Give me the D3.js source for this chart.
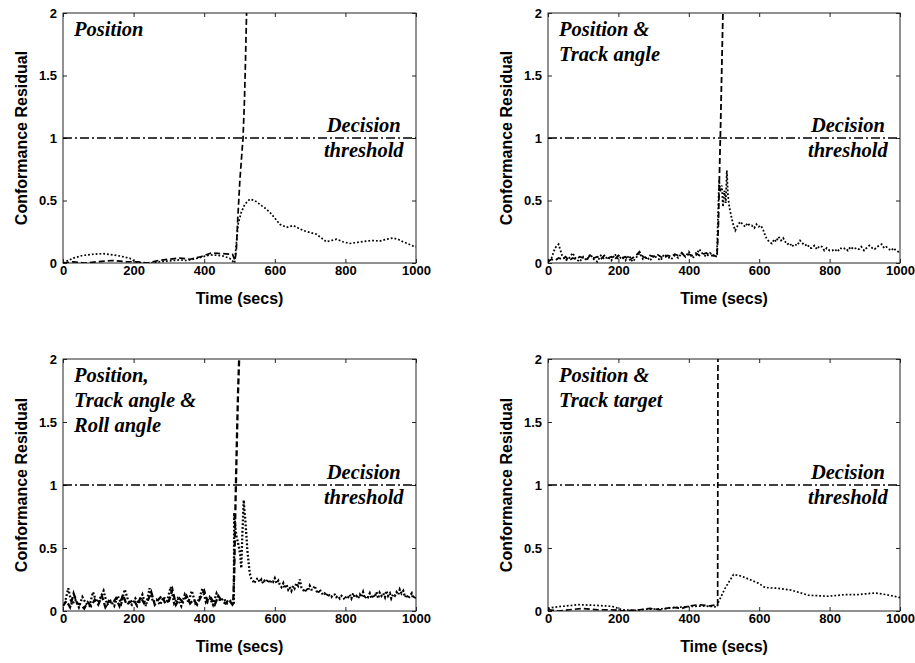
<!DOCTYPE html>
<meta charset="utf-8">
<script src="https://d3js.org/d3.v7.min.js"></script>
<style>
  body { margin: 0; background: #fff; }
  text { fill: #000; }
</style>
<svg id="chart" width="915" height="663"></svg>
<script>
// ---- shared axis values ----
var xTicks = [0, 200, 400, 600, 800, 1000];
var yTicks = [0, 0.5, 1, 1.5, 2];
var threshold = 1;
var xLabel = "Time (secs)";
var yLabel = "Conformance Residual";
var thresholdLabel = ["Decision", "threshold"];

// ---- panel 1 : Position ----
var p1Title = ["Position"];
var p1Dash = [[0,0.0],[30,0.01],[60,0.0],[100,0.01],[140,0.02],[180,0.01],[210,0.01],[240,0.0],[270,0.02],
  [300,0.03],[330,0.04],[360,0.03],[390,0.05],[420,0.08],[450,0.075],[480,0.07],[487,0.02],[491,0.1],
  [495,0.35],[501,0.66],[506,0.85],[510,1.0],[514,1.3],[517,1.62],[520,2.0],[524,2.4]];
var p1Dot = [[0,0.0],[28,0.038],[55,0.06],[85,0.07],[113,0.075],[140,0.065],[161,0.056],[189,0.038],[208,0.003],
  [230,0.0],[255,0.0],[274,0.01],[293,0.015],[312,0.02],[330,0.025],[350,0.02],[368,0.03],[387,0.043],
  [416,0.065],[435,0.062],[453,0.056],[472,0.038],[486,0.0],[496,0.31],[505,0.405],[515,0.47],[529,0.51],
  [543,0.5],[557,0.47],[572,0.44],[586,0.405],[600,0.36],[614,0.31],[633,0.285],[652,0.30],[666,0.28],
  [680,0.26],[699,0.245],[718,0.23],[732,0.2],[746,0.17],[760,0.18],[775,0.19],[793,0.17],[812,0.156],
  [835,0.165],[859,0.175],[878,0.18],[897,0.175],[916,0.19],[935,0.2],[949,0.19],[963,0.17],[977,0.155],
  [991,0.137],[1000,0.13]];

// ---- panel 2 : Position & Track angle ----
var p2Title = ["Position &", "Track angle"];
var p2DashLow = [0.01,0.03,0.02,0.04,0.03,0.05,0.02,0.04,0.03,0.05,
  0.04,0.03,0.06,0.04,0.05,0.03,0.06,0.04,0.05,0.03,
  0.06,0.04,0.05,0.02,0.04,0.06,0.09,0.05,0.04,0.06,
  0.05,0.07,0.05,0.04,0.06,0.05,0.07,0.06,0.08,0.05,
  0.07,0.06,0.08,0.06,0.07,0.08,0.06,0.06,0.05];
var p2DashTail = [[484,0.3],[487,0.7],[490,1.05],[494,1.6],[497,2.0],[501,2.4]];
var p2DotLow = [0.02,0.04,0.12,0.15,0.06,0.02,0.04,0.08,0.03,0.01,
  0.05,0.02,0.07,0.03,0.01,0.06,0.03,0.05,0.02,0.07,
  0.03,0.05,0.02,0.06,0.01,0.04,0.08,0.03,0.05,0.02,
  0.06,0.04,0.02,0.07,0.05,0.03,0.06,0.04,0.08,0.05,
  0.09,0.04,0.06,0.11,0.07,0.05,0.08,0.06,0.07];
var p2DotTail = [[486,0.66],[490,0.57],[494,0.62],[497,0.45],[501,0.58],[505,0.48],[508,0.74],[511,0.55],
  [515,0.45],[522,0.355],[527,0.3],[532,0.26],[539,0.3],[546,0.33],[553,0.31],[560,0.29],[567,0.32],
  [573,0.3],[579,0.30],[586,0.28],[592,0.31],[598,0.29],[605,0.3],[612,0.26],[617,0.22],[621,0.196],
  [628,0.17],[636,0.156],[643,0.19],[648,0.17],[655,0.21],[662,0.18],[668,0.2],[674,0.17],[680,0.15],
  [687,0.16],[693,0.13],[700,0.15],[708,0.14],[716,0.18],[722,0.16],[730,0.14],[737,0.15],[743,0.12],
  [749,0.12],[757,0.14],[764,0.11],[771,0.135],[778,0.13],[785,0.1],[792,0.12],[800,0.1],[807,0.10],
  [815,0.11],[822,0.09],[830,0.12],[838,0.11],[845,0.12],[852,0.1],[860,0.13],[868,0.11],[876,0.12],
  [883,0.11],[890,0.13],[898,0.1],[905,0.12],[913,0.14],[921,0.12],[928,0.11],[935,0.13],[942,0.14],
  [948,0.15],[955,0.12],[961,0.13],[967,0.115],[975,0.1],[982,0.12],[988,0.1],[995,0.09],[1000,0.1]];

// ---- panel 3 : Position, Track angle & Roll angle ----
var p3Title = ["Position,", "Track angle &", "Roll angle"];
var p3DashLow = [0.04,0.08,0.03,0.14,0.06,0.05,0.02,0.07,0.04,0.09,
  0.05,0.12,0.03,0.08,0.06,0.10,0.04,0.13,0.05,0.07,
  0.09,0.04,0.11,0.06,0.08,0.15,0.05,0.09,0.12,0.06,
  0.08,0.17,0.05,0.10,0.07,0.12,0.06,0.09,0.05,0.11,
  0.16,0.07,0.10,0.05,0.12,0.08,0.06,0.09,0.05];
var p3DashTail = [[482,0.06],[485,0.3],[489,0.9],[493,1.4],[496,1.75],[499,2.0],[502,2.3]];
var p3DotLow = [0.06,0.18,0.05,0.09,0.03,0.11,0.06,0.04,0.15,0.07,
  0.10,0.16,0.05,0.08,0.04,0.12,0.06,0.17,0.08,0.05,
  0.10,0.06,0.13,0.04,0.18,0.07,0.09,0.05,0.11,0.08,
  0.19,0.06,0.10,0.04,0.13,0.07,0.16,0.06,0.09,0.18,
  0.07,0.11,0.05,0.14,0.08,0.10,0.06,0.08];
var p3DotTail = [[484,0.05],[485,0.78],[488,0.66],[492,0.59],[495,0.55],[498,0.51],[502,0.45],[505,0.34],
  [508,0.6],[512,0.88],[514,0.8],[517,0.70],[520,0.58],[522,0.49],[526,0.38],[529,0.30],[533,0.26],
  [538,0.24],[542,0.22],[547,0.25],[552,0.26],[557,0.23],[562,0.25],[567,0.22],[571,0.24],[576,0.23],
  [581,0.25],[586,0.22],[590,0.24],[595,0.23],[600,0.26],[605,0.22],[610,0.24],[614,0.21],[619,0.19],
  [624,0.22],[628,0.18],[633,0.21],[638,0.17],[642,0.19],[647,0.16],[652,0.2],[656,0.18],[661,0.22],
  [666,0.2],[671,0.25],[675,0.19],[680,0.17],[685,0.15],[690,0.18],[694,0.16],[699,0.2],[704,0.17],
  [708,0.17],[713,0.2],[718,0.16],[722,0.14],[727,0.17],[732,0.15],[736,0.13],[741,0.14],[746,0.12],
  [751,0.14],[755,0.12],[760,0.11],[765,0.13],[770,0.13],[774,0.11],[779,0.12],[784,0.1],[789,0.12],
  [793,0.11],[798,0.09],[803,0.12],[808,0.11],[812,0.13],[817,0.1],[822,0.14],[826,0.11],[831,0.12],
  [836,0.1],[841,0.13],[845,0.11],[850,0.15],[855,0.1],[860,0.12],[864,0.11],[869,0.14],[874,0.1],
  [879,0.13],[883,0.11],[888,0.15],[893,0.1],[897,0.145],[902,0.12],[907,0.14],[912,0.11],[916,0.16],
  [921,0.12],[926,0.14],[930,0.1],[935,0.13],[940,0.12],[945,0.15],[950,0.13],[954,0.17],[959,0.14],
  [964,0.16],[969,0.11],[973,0.13],[978,0.1],[983,0.12],[988,0.14],[992,0.1],[997,0.12],[1000,0.1]];

// ---- panel 4 : Position & Track target ----
var p4Title = ["Position &", "Track target"];
var p4Dash = [[0,0.01],[30,0.0],[60,0.01],[100,0.02],[140,0.01],[180,0.01],[220,0.0],[260,0.01],[290,0.02],
  [320,0.01],[350,0.03],[380,0.02],[400,0.04],[430,0.05],[460,0.04],[480,0.05],[482,0.05],[483,2.5]];
var p4Dot = [[0,0.02],[11,0.027],[40,0.037],[87,0.05],[134,0.045],[182,0.037],[210,0.01],[248,0.005],
  [276,0.013],[324,0.018],[371,0.03],[400,0.035],[440,0.04],[470,0.035],[480,0.03],[484,0.07],[503,0.18],
  [527,0.29],[545,0.28],[560,0.265],[598,0.22],[617,0.186],[654,0.18],[692,0.165],[740,0.125],[796,0.117],
  [844,0.13],[880,0.13],[929,0.143],[960,0.13],[995,0.11],[1000,0.105]];

function grid(start, step, vals) {
  return vals.map(function(v, i) { return [start + i * step, v]; });
}

var panels = [
  { x0: 63,  x1: 416, y0: 13,  y1: 263, title: p1Title, dash: p1Dash, dot: p1Dot, w: 1.7 },
  { x0: 548, x1: 900, y0: 13,  y1: 263, title: p2Title, w: 1.8,
    dash: grid(0, 10, p2DashLow).concat(p2DashTail), dot: grid(0, 10, p2DotLow).concat(p2DotTail) },
  { x0: 63,  x1: 416, y0: 359, y1: 611, title: p3Title, w: 2.3,
    dash: grid(0, 10, p3DashLow).concat(p3DashTail), dot: grid(5, 10, p3DotLow).concat(p3DotTail) },
  { x0: 548, x1: 900, y0: 359, y1: 611, title: p4Title, dash: p4Dash, dot: p4Dot, w: 1.7 }
];

var svg = d3.select("#chart");
var tickFont = "'Liberation Sans', Arial, sans-serif";
var serif = "'Liberation Serif', 'Times New Roman', serif";

panels.forEach(function(p, i) {
  var x = d3.scaleLinear().domain([0, 1000]).range([p.x0, p.x1]);
  var y = d3.scaleLinear().domain([0, 2]).range([p.y1, p.y0]);
  var g = svg.append("g");

  g.append("clipPath").attr("id", "clip" + i)
    .append("rect")
    .attr("x", p.x0).attr("y", p.y0)
    .attr("width", p.x1 - p.x0).attr("height", p.y1 - p.y0);

  // axes with inward ticks on all four sides
  var bottom = g.append("g").attr("transform", "translate(0," + p.y1 + ")")
    .call(d3.axisBottom(x).tickValues(xTicks).tickSizeInner(-4).tickSizeOuter(0).tickPadding(3)
      .tickFormat(function(d) { return d; }));
  var top = g.append("g").attr("transform", "translate(0," + p.y0 + ")")
    .call(d3.axisTop(x).tickValues(xTicks).tickSizeInner(-4).tickSizeOuter(0).tickFormat(""));
  var left = g.append("g").attr("transform", "translate(" + p.x0 + ",0)")
    .call(d3.axisLeft(y).tickValues(yTicks).tickSizeInner(-4).tickSizeOuter(0).tickPadding(6)
      .tickFormat(function(d) { return d; }));
  var right = g.append("g").attr("transform", "translate(" + p.x1 + ",0)")
    .call(d3.axisRight(y).tickValues(yTicks).tickSizeInner(-4).tickSizeOuter(0).tickFormat(""));

  [bottom, top, left, right].forEach(function(a) {
    a.select(".domain").remove();
    a.selectAll(".tick line").attr("stroke", "#222");
    a.selectAll("text")
      .style("font-family", tickFont).style("font-size", "13px").style("font-weight", "bold");
  });

  g.append("rect")
    .attr("x", p.x0).attr("y", p.y0)
    .attr("width", p.x1 - p.x0).attr("height", p.y1 - p.y0)
    .attr("fill", "none").attr("stroke", "#222").attr("stroke-width", 1);

  // axis titles
  g.append("text")
    .attr("x", (p.x0 + p.x1) / 2).attr("y", p.y1 + 41)
    .attr("text-anchor", "middle")
    .style("font-family", tickFont).style("font-size", "16px").style("font-weight", "bold")
    .text(xLabel);
  g.append("text")
    .attr("transform", "translate(" + (p.x0 - 36) + "," + ((p.y0 + p.y1) / 2) + ") rotate(-90)")
    .attr("text-anchor", "middle")
    .style("font-family", tickFont).style("font-size", "16px").style("font-weight", "bold")
    .text(yLabel);

  var line = d3.line().x(function(d) { return x(d[0]); }).y(function(d) { return y(d[1]); });
  var plot = g.append("g").attr("clip-path", "url(#clip" + i + ")");

  // decision threshold
  plot.append("path")
    .datum([[0, threshold], [1000, threshold]])
    .attr("d", line).attr("fill", "none")
    .attr("stroke", "#000").attr("stroke-width", 1.7)
    .attr("stroke-dasharray", "9,3,2,3");

  plot.append("path")
    .datum(p.dot)
    .attr("d", line).attr("fill", "none")
    .attr("stroke", "#000").attr("stroke-width", p.w)
    .attr("stroke-dasharray", "1.8,2");

  plot.append("path")
    .datum(p.dash)
    .attr("d", line).attr("fill", "none")
    .attr("stroke", "#000").attr("stroke-width", p.w)
    .attr("stroke-dasharray", "6,3");

  // annotations
  g.append("g").selectAll("text")
    .data(p.title).enter().append("text")
    .attr("x", p.x0 + 11)
    .attr("y", function(d, k) { return p.y0 + 23 + k * 25; })
    .style("font-family", serif).style("font-size", "20.5px")
    .style("font-weight", "bold").style("font-style", "italic")
    .text(function(d) { return d; });

  g.append("g").selectAll("text")
    .data(thresholdLabel).enter().append("text")
    .attr("x", x(852))
    .attr("y", function(d, k) { return y(threshold) - 6 + k * 25; })
    .attr("text-anchor", "middle")
    .style("font-family", serif).style("font-size", "20.5px")
    .style("font-weight", "bold").style("font-style", "italic")
    .text(function(d) { return d; });
});
</script>
